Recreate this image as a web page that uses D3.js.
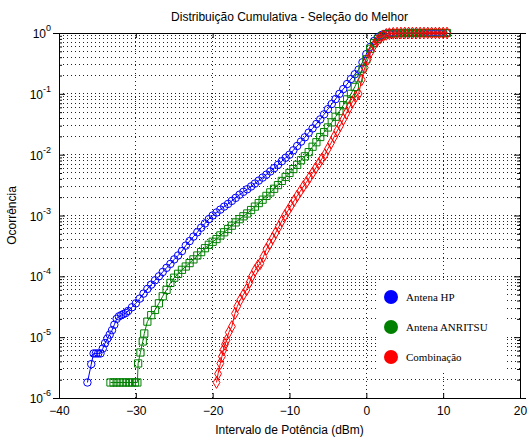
<!DOCTYPE html>
<html>
<head>
<meta charset="utf-8">
<script src="https://cdn.jsdelivr.net/npm/d3@7"></script>
<style>
  body { margin: 0; background: #fff; }
  text { font-family: "Liberation Sans", Arial, sans-serif; }
  .legend text { font-family: "Liberation Serif", "Times New Roman", serif; }
</style>
</head>
<body>
<div id="chart"></div>
<script>
// [potência dBm, ocorrência]
const antenaHP = [
  [-36.3,1.8e-6],[-35.8,3.6e-6],[-35.5,5.4e-6],[-35.2,5.4e-6],[-34.9,5.4e-6],[-34.6,5.4e-6],
  [-34.3,6.5e-6],[-34.0,8.0e-6],[-33.7,9.5e-6],[-33.4,1.1e-5],[-33.1,1.3e-5],[-32.8,1.6e-5],
  [-32.5,2.0e-5],[-32.2,2.2e-5],[-31.9,2.3e-5],[-31.6,2.4e-5],[-31.3,2.5e-5],[-31.0,2.7e-5],
  [-30.5,3.1e-5],[-30.0,3.6e-5],[-29.5,4.3e-5],[-29.0,5.2e-5],[-28.5,6.2e-5],[-28.0,7.3e-5],
  [-27.5,8.6e-5],[-27.0,1.0e-4],[-26.5,1.18e-4],[-26.0,1.38e-4],[-25.5,1.6e-4],[-25.0,1.9e-4],
  [-24.5,2.2e-4],[-24.0,2.6e-4],[-23.5,3.2e-4],[-23.0,3.8e-4],[-22.5,4.5e-4],[-22.0,5.3e-4],
  [-21.5,6.3e-4],[-21.0,7.4e-4],[-20.5,8.7e-4],[-20.0,1.0e-3],[-19.5,1.12e-3],[-19.0,1.25e-3],
  [-18.5,1.4e-3],[-18.0,1.55e-3],[-17.5,1.74e-3],[-17.0,1.95e-3],[-16.5,2.2e-3],[-16.0,2.45e-3],
  [-15.5,2.7e-3],[-15.0,3.0e-3],[-14.5,3.35e-3],[-14.0,3.75e-3],[-13.5,4.2e-3],[-13.0,4.7e-3],
  [-12.5,5.3e-3],[-12.0,6.0e-3],[-11.5,6.8e-3],[-11.0,7.8e-3],[-10.5,8.9e-3],[-10.0,1.0e-2],
  [-9.5,1.18e-2],[-9.0,1.39e-2],[-8.5,1.64e-2],[-8.0,1.93e-2],[-7.5,2.3e-2],[-7.0,2.7e-2],
  [-6.5,3.2e-2],[-6.0,3.8e-2],[-5.5,4.6e-2],[-5.0,5.6e-2],[-4.5,6.8e-2],[-4.0,8.2e-2],
  [-3.5,0.1],[-3.0,0.12],[-2.5,0.145],[-2.0,0.175],[-1.5,0.21],[-1.0,0.25],[-0.5,0.33],
  [0.0,0.45],[0.5,0.59],[1.0,0.74],[1.5,0.85],[2.0,0.93],[2.5,0.97],[3.0,0.985],[3.5,0.993],
  [4.0,0.996],[4.5,0.998],[5.0,0.999],[5.5,0.999],[6.0,1],[6.5,1],[7.0,1],[7.5,1],[8.0,1],
  [8.5,1],[9.0,1],[9.5,1],[10.0,1],[10.5,1]
];

const antenaANRITSU = [
  [-33.3,1.8e-6],[-32.9,1.8e-6],[-32.5,1.8e-6],[-32.1,1.8e-6],[-31.7,1.8e-6],[-31.3,1.8e-6],
  [-30.9,1.8e-6],[-30.5,1.8e-6],[-30.1,1.8e-6],[-29.8,1.8e-6],[-29.7,3.7e-6],[-29.4,5.6e-6],
  [-29.1,8.5e-6],[-28.9,1.15e-5],[-28.5,1.8e-5],[-28.0,2.3e-5],[-27.5,2.8e-5],[-27.0,3.6e-5],
  [-26.5,4.7e-5],[-26.0,6.0e-5],[-25.5,7.8e-5],[-25.0,9.5e-5],[-24.5,1.1e-4],[-24.0,1.28e-4],
  [-23.5,1.45e-4],[-23.0,1.65e-4],[-22.5,1.9e-4],[-22.0,2.2e-4],[-21.5,2.5e-4],[-21.0,2.9e-4],
  [-20.5,3.3e-4],[-20.0,3.7e-4],[-19.5,4.1e-4],[-19.0,4.7e-4],[-18.5,5.3e-4],[-18.0,6.0e-4],
  [-17.5,6.8e-4],[-17.0,7.7e-4],[-16.5,8.7e-4],[-16.0,9.7e-4],[-15.5,1.08e-3],[-15.0,1.23e-3],
  [-14.5,1.4e-3],[-14.0,1.6e-3],[-13.5,1.82e-3],[-13.0,2.1e-3],[-12.5,2.4e-3],[-12.0,2.75e-3],
  [-11.5,3.16e-3],[-11.0,3.7e-3],[-10.5,4.3e-3],[-10.0,5.0e-3],[-9.5,5.8e-3],[-9.0,6.8e-3],
  [-8.5,8.1e-3],[-8.0,9.4e-3],[-7.5,1.1e-2],[-7.0,1.35e-2],[-6.5,1.6e-2],[-6.0,1.95e-2],
  [-5.5,2.35e-2],[-5.0,2.8e-2],[-4.5,3.4e-2],[-4.0,4.2e-2],[-3.5,5.2e-2],[-3.0,6.5e-2],
  [-2.5,8.1e-2],[-2.0,0.1],[-1.5,0.13],[-1.0,0.18],[-0.5,0.26],[0.0,0.37],[0.5,0.55],
  [1.0,0.68],[1.5,0.8],[2.0,0.89],[2.5,0.95],[3.0,0.975],[3.5,0.988],[4.0,0.995],[4.5,0.998],
  [5.0,0.999],[5.5,1],[6.0,1],[6.5,1],[7.0,1],[7.5,1],[8.0,1],[8.5,1],[9.0,1],[9.5,1],
  [10.0,1],[10.5,1]
];

const combinacao = [
  [-19.5,1.8e-6],[-19.3,2.5e-6],[-19.0,3.7e-6],[-18.8,4.8e-6],[-18.6,6.2e-6],[-18.4,7.6e-6],
  [-18.2,8.9e-6],[-17.9,1.2e-5],[-17.5,1.5e-5],[-17.1,2.45e-5],[-16.8,3.2e-5],[-16.4,4.1e-5],
  [-16.0,5.0e-5],[-15.6,6.0e-5],[-15.2,8.0e-5],[-14.9,1.0e-4],[-14.5,1.25e-4],[-14.1,1.5e-4],
  [-13.8,1.62e-4],[-13.4,2.1e-4],[-13.0,2.8e-4],[-12.6,3.4e-4],[-12.2,4.2e-4],[-11.8,5.2e-4],
  [-11.4,6.5e-4],[-11.0,8.1e-4],[-10.6,1.0e-3],[-10.2,1.2e-3],[-9.8,1.45e-3],[-9.4,1.75e-3],
  [-9.0,2.1e-3],[-8.6,2.5e-3],[-8.2,3.0e-3],[-7.8,3.5e-3],[-7.4,4.2e-3],[-7.0,5.0e-3],
  [-6.6,6.0e-3],[-6.2,7.1e-3],[-5.8,8.5e-3],[-5.4,1.0e-2],[-5.0,1.25e-2],[-4.6,1.55e-2],
  [-4.2,1.95e-2],[-3.8,2.45e-2],[-3.4,3.0e-2],[-3.0,3.8e-2],[-2.6,4.8e-2],[-2.2,6.0e-2],
  [-1.8,7.4e-2],[-1.4,8.9e-2],[-1.0,0.1],[-0.6,0.17],[-0.2,0.27],[0.2,0.37],[0.6,0.5],
  [1.0,0.63],[1.4,0.74],[1.8,0.83],[2.2,0.9],[2.6,0.95],[3.0,0.975],[3.5,0.99],[4.0,0.995],
  [4.5,0.998],[5.0,1],[5.5,1],[6.0,1],[6.5,1],[7.0,1],[7.5,1],[8.0,1],[8.5,1],[9.0,1],
  [9.5,1],[10.0,1],[10.5,1]
];

const seriesNames = ["Antena HP", "Antena ANRITSU", "Combinação"];
const xTicks = [-40, -30, -20, -10, 0, 10, 20];
const yExponents = [-6, -5, -4, -3, -2, -1, 0];

const width = 531, height = 440;
const margin = {top: 33, right: 11, bottom: 42, left: 59};

const svg = d3.select("#chart").append("svg")
  .attr("width", width)
  .attr("height", height);

const x = d3.scaleLinear().domain([-40, 20]).range([margin.left, width - margin.right]);
const y = d3.scaleLog().domain([1e-6, 1]).range([height - margin.bottom, margin.top]);

// grid lines (dotted, major + minor on y)
let yGrid = [];
yExponents.slice(0, -1).forEach(e => {
  for (let m = 1; m <= 9; m++) yGrid.push(m * Math.pow(10, e));
});
yGrid.push(1);

const grid = svg.append("g").attr("class", "grid");
grid.selectAll("line.gy")
  .data(yGrid)
  .enter().append("line")
  .attr("x1", x(-40)).attr("x2", x(20))
  .attr("y1", d => y(d)).attr("y2", d => y(d))
  .attr("stroke", "#222").attr("stroke-width", 1)
  .attr("stroke-dasharray", "1,3")
  .attr("shape-rendering", "crispEdges");

grid.selectAll("line.gx")
  .data(xTicks.slice(1, -1))
  .enter().append("line")
  .attr("x1", d => x(d)).attr("x2", d => x(d))
  .attr("y1", y(1e-6)).attr("y2", y(1))
  .attr("stroke", "#222").attr("stroke-width", 1)
  .attr("stroke-dasharray", "1,3")
  .attr("shape-rendering", "crispEdges");

// axes with inner ticks (box style)
const axB = svg.append("g")
  .attr("transform", "translate(0," + y(1e-6) + ")")
  .call(d3.axisBottom(x).tickValues(xTicks).tickSize(-5).tickPadding(8).tickFormat(d3.format("d")));
const axT = svg.append("g")
  .attr("transform", "translate(0," + y(1) + ")")
  .call(d3.axisTop(x).tickValues(xTicks).tickSize(-5).tickFormat(""));

const axL = svg.append("g")
  .attr("transform", "translate(" + x(-40) + ",0)")
  .call(d3.axisLeft(y).tickValues(yGrid).tickFormat("").tickSizeInner(-3));
const axR = svg.append("g")
  .attr("transform", "translate(" + x(20) + ",0)")
  .call(d3.axisRight(y).tickValues(yGrid).tickFormat("").tickSizeInner(-3));

[axL, axR].forEach(a => {
  a.selectAll(".tick line")
    .attr("x2", d => (Math.abs(Math.log10(d) - Math.round(Math.log10(d))) < 1e-9 ? 6 : 3) * (a === axL ? 1 : -1));
});

[axB, axT, axL, axR].forEach(a => {
  a.select(".domain").attr("stroke", "#000").attr("shape-rendering", "crispEdges");
  a.selectAll(".tick line").attr("stroke", "#000");
});
axB.selectAll(".tick text").attr("font-size", 12).attr("fill", "#000");

// y tick labels 10^n
const yLab = svg.append("g");
yExponents.forEach(e => {
  const t = yLab.append("text")
    .attr("y", y(Math.pow(10, e)) + 5)
    .attr("font-size", 12)
    .attr("fill", "#000");
  t.append("tspan").text("10");
  t.append("tspan").attr("dy", -7).attr("font-size", 9).text(String(e));
});
yLab.selectAll("text").each(function() {
  const w = this.getComputedTextLength();
  d3.select(this).attr("x", x(-40) - 8 - w);
});

// series
const line = d3.line().x(d => x(d[0])).y(d => y(d[1]));
const colors = ["#0000ff", "#008000", "#ff0000"];
const allData = [antenaHP, antenaANRITSU, combinacao];
const symbols = [d3.symbolCircle, d3.symbolSquare, d3.symbolDiamond];
const symSize = [44, 52, 40];

allData.forEach((data, i) => {
  const g = svg.append("g");
  g.append("path")
    .datum(data)
    .attr("d", line)
    .attr("fill", "none")
    .attr("stroke", colors[i])
    .attr("stroke-width", 1);
  g.selectAll("path.m")
    .data(data)
    .enter().append("path")
    .attr("class", "m")
    .attr("transform", d => "translate(" + x(d[0]) + "," + y(d[1]) + ")")
    .attr("d", d3.symbol().type(symbols[i]).size(symSize[i]))
    .attr("fill", "none")
    .attr("stroke", colors[i])
    .attr("stroke-width", 1);
});

// legend
const legend = svg.append("g").attr("class", "legend");
legend.append("rect")
  .attr("x", 378).attr("y", 281)
  .attr("width", 128).attr("height", 92)
  .attr("fill", "#fff");
legend.selectAll("g.item")
  .data(seriesNames)
  .enter().append("g")
  .attr("transform", (d, i) => "translate(391," + (297 + i * 30) + ")")
  .each(function(d, i) {
    const it = d3.select(this);
    it.append("circle").attr("r", 7).attr("fill", colors[i]);
    it.append("text").attr("x", 15).attr("y", 4)
      .attr("font-size", 11).attr("fill", "#000").text(d);
  });

// titles
svg.append("text")
  .attr("x", (x(-40) + x(20)) / 2).attr("y", 21)
  .attr("text-anchor", "middle").attr("font-size", 12).attr("fill", "#000")
  .text("Distribuição Cumulativa - Seleção do Melhor");
svg.append("text")
  .attr("x", (x(-40) + x(20)) / 2).attr("y", 434)
  .attr("text-anchor", "middle").attr("font-size", 12).attr("fill", "#000")
  .text("Intervalo de Potência (dBm)");
svg.append("text")
  .attr("transform", "translate(16," + y(1e-3) + ") rotate(-90)")
  .attr("text-anchor", "middle").attr("font-size", 12).attr("fill", "#000")
  .text("Ocorrência");
</script>
</body>
</html>
